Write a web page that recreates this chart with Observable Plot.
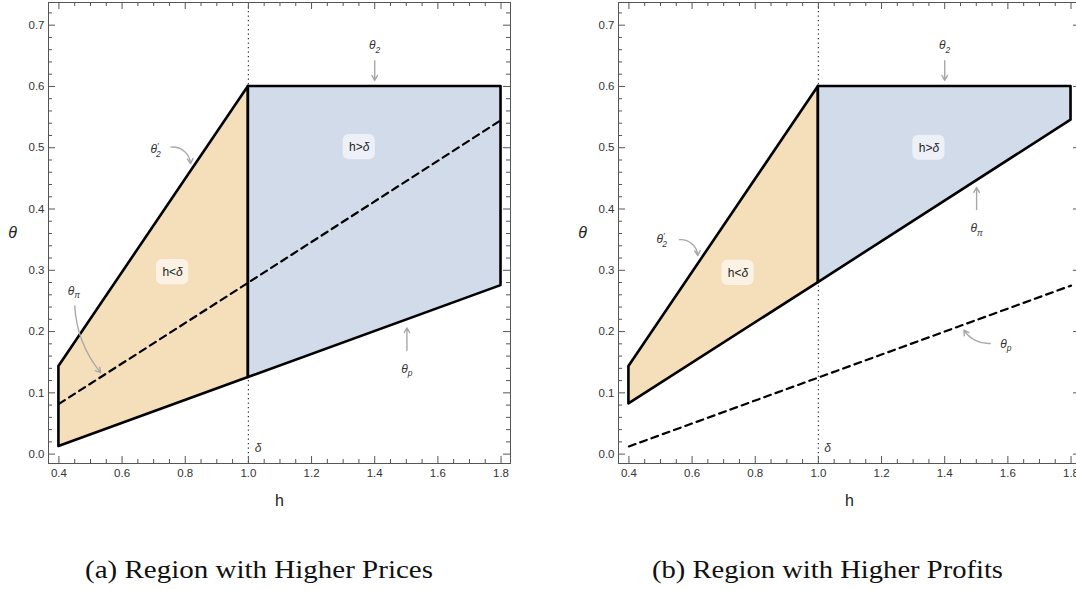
<!DOCTYPE html>
<html><head><meta charset="utf-8">
<script src="https://cdn.jsdelivr.net/npm/d3@7"></script>
<script src="https://cdn.jsdelivr.net/npm/@observablehq/plot@0.6"></script>
<style>
body{margin:0;width:1076px;height:590px;overflow:hidden;background:#fff;position:relative;font-family:Arial,"Liberation Sans",sans-serif}
#a{position:absolute;left:0;top:0;width:540px;height:520px}
#b{position:absolute;left:570px;top:0;width:540px;height:520px}
#a svg,#b svg{max-width:none!important;width:540px;height:520px}
#cap{position:absolute;left:0;top:540px}
#cap text{font-family:"Liberation Serif","Times New Roman",Times,serif;font-size:26px;fill:#111}
</style></head><body>
<div id="a"></div><div id="b"></div>
<svg id="cap" width="1076" height="50">
<text x="85" y="38" textLength="348" lengthAdjust="spacingAndGlyphs">(a) Region with Higher Prices</text>
<text x="652" y="38" textLength="351" lengthAdjust="spacingAndGlyphs">(b) Region with Higher Profits</text>
</svg>
<script>
// ---- data ----
const hPts = [0.4, 1.0, 1.8];
const thetaP = [0.0125, 0.125, 0.275];      // θ_p at hPts
const thetaPi = [0.082, 0.28, 0.545];       // θ_π at hPts
const theta2Prime = [0.143, 0.6];           // θ'_2 at h = 0.4, 1.0
const theta2 = [0.6, 0.6];                  // θ_2 at h = 1.0, 1.8
const delta = 1.0;
const xTicks = [0.4, 0.6, 0.8, 1.0, 1.2, 1.4, 1.6, 1.8];
const yTicks = [0.0, 0.1, 0.2, 0.3, 0.4, 0.5, 0.6, 0.7];

const labelsA = [
  {h: 1.40, t: 0.667, text: "θ_2"},
  {h: 0.706, t: 0.498, text: "θ′_2"},
  {h: 0.447, t: 0.2665, text: "θ_π"},
  {h: 1.502, t: 0.139, text: "θ_p"},
  {h: 1.031, t: 0.010, text: "δ"}
];
const boxesA = [
  {h: 1.351, t: 0.501, text: "h>δ"},
  {h: 0.760, t: 0.297, text: "h<δ"}
];
const arrowsA = [
  {h1: 1.40, t1: 0.642, h2: 1.40, t2: 0.610, bend: 0},
  {h1: 0.755, t1: 0.501, h2: 0.817, t2: 0.474, bend: 45},
  {h1: 0.450, t1: 0.242, h2: 0.532, t2: 0.133, bend: -18},
  {h1: 1.502, t1: 0.169, h2: 1.502, t2: 0.206, bend: 0}
];

const labelsB = [
  {h: 1.40, t: 0.667, text: "θ_2"},
  {h: 1.501, t: 0.368, text: "θ_π"},
  {h: 0.504, t: 0.350, text: "θ′_2"},
  {h: 1.594, t: 0.1795, text: "θ_p"},
  {h: 1.029, t: 0.010, text: "δ"}
];
const boxesB = [
  {h: 1.350, t: 0.500, text: "h>δ"},
  {h: 0.7455, t: 0.2957, text: "h<δ"}
];
const arrowsB = [
  {h1: 1.40, t1: 0.642, h2: 1.40, t2: 0.610, bend: 0},
  {h1: 1.501, t1: 0.399, h2: 1.501, t2: 0.435, bend: 0},
  {h1: 0.560, t1: 0.350, h2: 0.618, t2: 0.324, bend: 45},
  {h1: 1.544, t1: 0.1805, h2: 1.461, t2: 0.2024, bend: 30}
];

// ---- build tables ----
const orangeA = [0, 1].map(i => ({h: hPts[i], lo: thetaP[i], hi: theta2Prime[i]}));
const blueA = [1, 2].map((i, j) => ({h: hPts[i], lo: thetaP[i], hi: theta2[j]}));
const dashedA = hPts.map((h, i) => ({h, t: thetaPi[i]}));
const orangeB = [0, 1].map(i => ({h: hPts[i], lo: thetaPi[i], hi: theta2Prime[i]}));
const blueB = [1, 2].map((i, j) => ({h: hPts[i], lo: thetaPi[i], hi: theta2[j]}));
const dashedB = hPts.map((h, i) => ({h, t: thetaP[i]}));

const xMinor = d3.range(8, 37).filter(i => i % 4 !== 0).map(i => i * 0.05);
const yMinor = d3.range(0, 37).filter(i => i % 5 !== 0).map(i => i * 0.02);

function richify(svg) {
  d3.select(svg).selectAll("text").each(function () {
    const s = this.textContent;
    const el = d3.select(this);
    const m = /^θ(′?)_(.+)$/.exec(s);
    if (m) {
      el.text(null);
      el.append("tspan").text("θ");
      if (m[1]) {
        el.append("tspan").attr("font-size", "8.5px").attr("dy", "-4").text("′");
        el.append("tspan").attr("font-size", "8.5px").attr("dx", "-2.5").attr("dy", "8").text(m[2]);
      } else {
        el.append("tspan").attr("font-size", "8.5px").attr("dy", "3.5").text(m[2]);
      }
    } else if (/^h[<>]δ$/.test(s)) {
      el.text(null);
      el.append("tspan").text(s.slice(0, 2));
      el.append("tspan").attr("font-style", "italic").text("δ");
    }
  });
}

function panel(orange, blue, dashed, labels, boxes, arrows) {
  const W = 540, H = 520, mt = 2, mb = 57, ml = 48, mr = 30;
  const ph = H - mt - mb, pw = W - ml - mr;
  const tickCol = "#555";
  const marks = [
    Plot.ruleX([delta], {stroke: "#333", strokeWidth: 1.2, strokeDasharray: "1.2,3.3"}),
    Plot.areaY(orange, {x: "h", y1: "lo", y2: "hi", fill: "#f5dfbb", stroke: "#000", strokeWidth: 2.6}),
    Plot.areaY(blue, {x: "h", y1: "lo", y2: "hi", fill: "#d1dbea", stroke: "#000", strokeWidth: 2.6}),
    Plot.line(dashed, {x: "h", y: "t", stroke: "#000", strokeWidth: 2.2, strokeDasharray: "7,5"}),
    Plot.rect(boxes, {x1: d => d.h - 0.051, x2: d => d.h + 0.051, y1: d => d.t - 0.0205, y2: d => d.t + 0.0205, fill: "#fff", fillOpacity: 0.6, rx: 6}),
    Plot.text(boxes, {x: "h", y: "t", text: "text", fontSize: 12, fill: "#222"}),
    ...arrows.map(a => Plot.arrow([a], {x1: "h1", y1: "t1", x2: "h2", y2: "t2", bend: a.bend, stroke: "#a8a8a8", strokeWidth: 1.4, headLength: 6})),
    Plot.text(labels, {x: "h", y: "t", text: "text", fontSize: 12, fontStyle: "italic", fill: "#333"}),
    Plot.frame({stroke: "#555"}),
    Plot.tickX(xTicks, {x: d => d, insetTop: ph - 7, stroke: tickCol}),
    Plot.tickX(xTicks, {x: d => d, insetBottom: ph - 7, stroke: tickCol}),
    Plot.tickX(xMinor, {x: d => d, insetTop: ph - 4, stroke: tickCol}),
    Plot.tickX(xMinor, {x: d => d, insetBottom: ph - 4, stroke: tickCol}),
    Plot.tickY(yTicks, {y: d => d, insetRight: pw - 7, stroke: tickCol}),
    Plot.tickY(yTicks, {y: d => d, insetLeft: pw - 7, stroke: tickCol}),
    Plot.tickY(yMinor, {y: d => d, insetRight: pw - 4, stroke: tickCol}),
    Plot.tickY(yMinor, {y: d => d, insetLeft: pw - 4, stroke: tickCol}),
    Plot.axisX(xTicks, {tickSize: 0, tickPadding: 5, tickFormat: d => d.toFixed(1), fontSize: 11.5}),
    Plot.axisY(yTicks, {tickSize: 0, tickPadding: 4, tickFormat: d => d.toFixed(1), fontSize: 11.5}),
    Plot.text(["h"], {frameAnchor: "bottom", dy: 37, fontSize: 16, textAnchor: "middle", lineAnchor: "middle", fill: "#222"}),
    Plot.text(["θ"], {frameAnchor: "left", dx: -36, fontSize: 16, fontStyle: "italic", textAnchor: "middle", lineAnchor: "middle", fill: "#222"})
  ];
  const svg = Plot.plot({
    width: W, height: H, marginTop: mt, marginBottom: mb, marginLeft: ml, marginRight: mr,
    x: {domain: [0.367, 1.83], label: null},
    y: {domain: [-0.0153, 0.737], label: null},
    style: {fontFamily: "Arial, 'Liberation Sans', sans-serif", fontSize: "11.5px", color: "#333", background: "transparent", maxWidth: "none"},
    marks
  });
  richify(svg);
  return svg;
}

document.getElementById("a").appendChild(panel(orangeA, blueA, dashedA, labelsA, boxesA, arrowsA));
document.getElementById("b").appendChild(panel(orangeB, blueB, dashedB, labelsB, boxesB, arrowsB));
</script>
</body></html>
